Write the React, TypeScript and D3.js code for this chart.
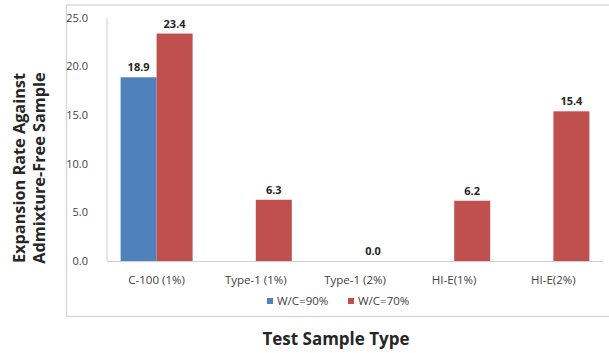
import React from "react";
import * as d3 from "d3";

const categories = ["C-100 (1%)", "Type-1 (1%)", "Type-1 (2%)", "HI-E(1%)", "HI-E(2%)"];
const seriesNames = ["W/C=90%", "W/C=70%"];
const wc90: (number | null)[] = [18.9, null, null, null, null];
const wc70: (number | null)[] = [23.4, 6.3, 0.0, 6.2, 15.4];
const yTicks = [0, 5, 10, 15, 20, 25];
const colors = ["#4F81BD", "#C0504D"];

const W = 609, H = 353;
const plot = { left: 107, right: 603, top: 18, bottom: 261 };
const FONT = "'Open Sans', 'Noto Sans', sans-serif";

export default function App() {
  const x = d3.scaleBand<string>().domain(categories).range([plot.left, plot.right]).padding(0);
  const xi = d3.scaleBand<string>().domain(seriesNames).range([0, x.bandwidth()]).paddingInner(0).paddingOuter(0.378);
  const y = d3.scaleLinear().domain([0, 25]).range([plot.bottom, plot.top]);
  const series = [wc90, wc70];

  return (
    <svg width={W} height={H} style={{ position: "absolute", left: 0, top: 0 }} fontFamily={FONT}>
      <rect x={0} y={0} width={W} height={H} fill="#fff" />
      <rect x={66.5} y={5} width={545} height={311.5} fill="none" stroke="#d9d9d9" strokeWidth={1.5} />
      {/* axes */}
      <line x1={plot.left} x2={plot.left} y1={plot.top} y2={plot.bottom} stroke="#d0d0d0" strokeWidth={1} />
      <line x1={plot.left} x2={plot.right} y1={plot.bottom + 0.5} y2={plot.bottom + 0.5} stroke="#d0d0d0" strokeWidth={1.2} />
      {yTicks.map((t) => (
        <text key={t} x={88} y={y(t)} dy="0.35em" textAnchor="end" fontSize={11} fill="#404040">
          {d3.format(".1f")(t)}
        </text>
      ))}
      {categories.map((c) => (
        <text key={c} x={(x(c) as number) + x.bandwidth() / 2} y={283.5} textAnchor="middle" fontSize={11.5} fill="#404040">
          {c}
        </text>
      ))}
      {series.map((vals, si) =>
        vals.map((v, ci) => {
          if (v === null) return null;
          const bx = (x(categories[ci]) as number) + (xi(seriesNames[si]) as number);
          const by = y(v);
          return (
            <g key={`${si}-${ci}`}>
              <rect x={bx} y={by} width={xi.bandwidth()} height={plot.bottom - by} fill={colors[si]} />
              <text x={bx + xi.bandwidth() / 2} y={by - 6} textAnchor="middle" fontSize={11} fontWeight="bold" fill="#262626">
                {d3.format(".1f")(v)}
              </text>
            </g>
          );
        })
      )}
      {/* legend */}
      {seriesNames.map((s, i) => {
        const lx = [267, 348][i];
        return (
          <g key={s}>
            <rect x={lx} y={298} width={6} height={6} fill={colors[i]} />
            <text x={lx + 10} y={301} dy="0.35em" fontSize={11.5} fill="#404040">{s}</text>
          </g>
        );
      })}
      {/* axis titles */}
      <text x={336} y={345} textAnchor="middle" fontSize={17} fontWeight="bold" fill="#262626">
        Test Sample Type
      </text>
      <text transform="translate(25,168) rotate(-90)" textAnchor="middle" fontSize={16.3} fontWeight="bold" fill="#262626">
        Expansion Rate Against
      </text>
      <text transform="translate(45,168) rotate(-90)" textAnchor="middle" fontSize={16.3} fontWeight="bold" fill="#262626">
        Admixture-Free Sample
      </text>
    </svg>
  );
}
